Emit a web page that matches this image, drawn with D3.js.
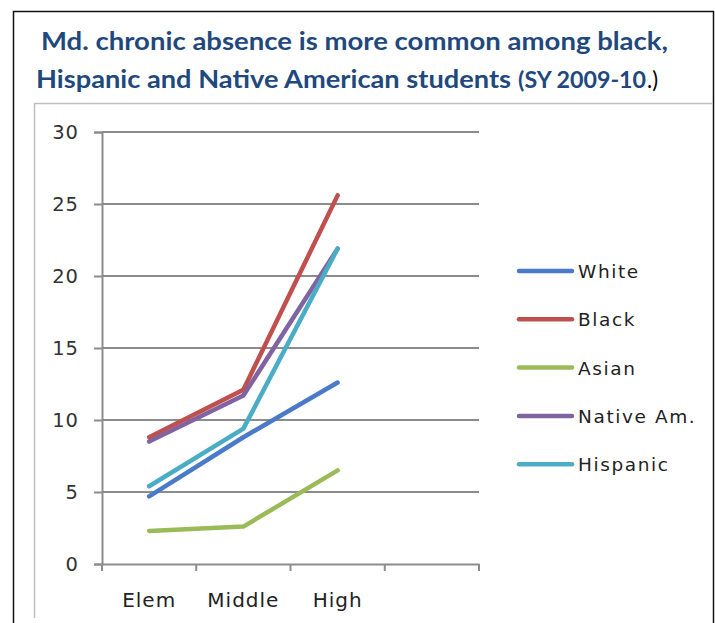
<!DOCTYPE html>
<html><head><meta charset="utf-8">
<script src="https://cdn.jsdelivr.net/npm/d3@7"></script>
<style>body{margin:0;background:#fff}svg{display:block}</style>
</head><body>
<script>
const categories = ["Elem","Middle","High",""];
const seriesNames = ["White","Black","Asian","Native Am.","Hispanic"];
const white = [4.7, 8.8, 12.6];
const black = [8.8, 12.1, 25.6];
const asian = [2.3, 2.6, 6.5];
const nativeAm = [8.5, 11.7, 21.9];
const hispanic = [5.4, 9.4, 21.9];
const yTicks = [0,5,10,15,20,25,30];
const colors = ["#4a7ac8","#c0504d","#9bbb59","#8064a2","#4bacc6"];

const series = [white, black, asian, nativeAm, hispanic];
const W = 715, H = 623;
const svg = d3.select("body").append("svg").attr("width", W).attr("height", H);

// frames
svg.append("path").attr("d","M13.5,623 V11.5 H713.5 V623").attr("fill","none").attr("stroke","#111").attr("stroke-width",1.5);
svg.append("path").attr("d","M34.5,618 V103.5 H713").attr("fill","none").attr("stroke","#bfbfbf").attr("stroke-width",1.5);

// title
const tf = "Lato, 'Open Sans', sans-serif";
function tt(txt, x0, yb, size, len, weight, fill){
  svg.append("text").attr("x",x0).attr("y",yb).attr("font-family",tf).attr("font-weight",weight)
    .attr("font-size",size).attr("fill",fill)
    .attr("textLength",len).attr("lengthAdjust","spacingAndGlyphs").text(txt);
}
tt("Md. chronic absence is more common among black,", 41, 50, 25, 627, "bold", "#1f497d");
tt("Hispanic and Native American students", 36, 88, 25, 475, "bold", "#1f497d");
tt("(SY 2009-10", 518, 88, 22.5, 128, "bold", "#1f497d");
tt(".)", 647, 88, 24, 11, "normal", "#000");

// scales
const x = d3.scaleBand().domain(categories.map((c,i)=>i)).range([102,479]);
const y = d3.scaleLinear().domain([0,30]).range([564,132]);

const g = svg.append("g");
// gridlines
g.selectAll("line.grid").data(yTicks.filter(d=>d>0)).join("line")
  .attr("x1",102).attr("x2",479).attr("y1",d=>y(d)).attr("y2",d=>y(d))
  .attr("stroke","#8c8c8c").attr("stroke-width",2);

// y axis
const yAxis = g.append("g").attr("transform","translate(102,0)")
  .call(d3.axisLeft(y).tickValues(yTicks).tickSize(8).tickPadding(15));
yAxis.select(".domain").attr("stroke","#8c8c8c").attr("stroke-width",2);
yAxis.selectAll(".tick line").attr("stroke","#8c8c8c").attr("stroke-width",2);
yAxis.selectAll("text").attr("font-family","'DejaVu Sans', sans-serif").attr("font-size",19.5)
  .attr("letter-spacing",1).attr("fill","#333");

// x axis
const xAxis = g.append("g").attr("transform","translate(0,564)")
  .call(d3.axisBottom(x).tickSize(0).tickFormat(i=>categories[i]).tickPadding(28.5));
xAxis.select(".domain").attr("stroke","#8c8c8c").attr("stroke-width",2);
xAxis.selectAll("text").attr("font-family","'DejaVu Sans', sans-serif").attr("font-size",20)
  .attr("letter-spacing",1).attr("fill","#222");
const bounds = categories.map((c,i)=>x(i)).concat([x(categories.length-1)+x.bandwidth()]);
g.selectAll("line.xt").data(bounds).join("line")
  .attr("x1",d=>d).attr("x2",d=>d).attr("y1",564).attr("y2",571)
  .attr("stroke","#8c8c8c").attr("stroke-width",2);

// lines
const line = d3.line().x((d,i)=>x(i)+x.bandwidth()/2).y(d=>y(d));
svg.append("g").selectAll("path").data(series).join("path")
  .attr("d",line).attr("fill","none").attr("stroke",(d,i)=>colors[i])
  .attr("stroke-width",4.5).attr("stroke-linecap","round").attr("stroke-linejoin","round");

// legend
const lg = svg.append("g").selectAll("g").data(seriesNames).join("g")
  .attr("transform",(d,i)=>`translate(519,${271+i*48.3})`);
lg.append("line").attr("x1",0).attr("x2",53).attr("stroke",(d,i)=>colors[i]).attr("stroke-width",4.5).attr("stroke-linecap","round");
lg.append("text").attr("x",59).attr("y",7).attr("font-family","'DejaVu Sans', sans-serif").attr("font-size",18.5)
  .attr("fill","#222").attr("letter-spacing",1.6).text(d=>d);
</script>
</body></html>
